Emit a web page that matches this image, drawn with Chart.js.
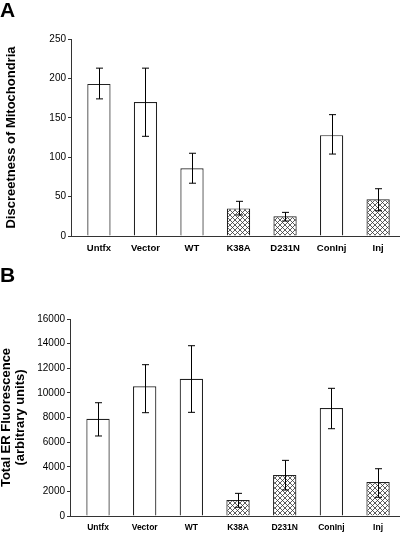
<!DOCTYPE html>
<html>
<head>
<meta charset="utf-8">
<script src="https://cdn.jsdelivr.net/npm/chart.js@4.4.1/dist/chart.umd.min.js"></script>
<style>
  html, body { margin: 0; padding: 0; background: #fff; overflow: hidden; }
  #wrap { position: relative; width: 400px; height: 536px; }
  .panel { position: absolute; left: 0; width: 400px; height: 268px; }
  .letter { position: absolute; left: 0; font: bold 21px 'Liberation Sans', Arial, sans-serif; color: #000; z-index: 2; }
</style>
</head>
<body>
<div id="wrap">
  <div class="letter" style="top:-2px">A</div>
  <div class="panel" style="top:0"><canvas id="chartA" width="400" height="268"></canvas></div>
  <div class="letter" style="top:263px">B</div>
  <div class="panel" style="top:268px"><canvas id="chartB" width="400" height="268"></canvas></div>
</div>
<script>
// categories shared by both panels
const categories = ['Untfx', 'Vector', 'WT', 'K38A', 'D231N', 'ConInj', 'Inj'];
const hatched = [false, false, false, true, true, false, true];

// panel A: discreetness of mitochondria
const mitoValues = [193, 170, 86, 35, 25, 128, 46.5];
const mitoErrHigh = [213, 213, 105, 44, 30, 154, 60];
const mitoErrLow = [174, 126.5, 67, 26.7, 19, 104, 32];
const mitoTicks = [0, 50, 100, 150, 200, 250];

// panel B: total ER fluorescence
const erValues = [7900, 10540, 11150, 1300, 3330, 8770, 2760];
const erErrHigh = [9200, 12290, 13830, 1840, 4520, 10370, 3840];
const erErrLow = [6500, 8390, 8420, 710, 2110, 7090, 1520];
const erTicks = [0, 2000, 4000, 6000, 8000, 10000, 12000, 14000, 16000];

const FONT = "'Liberation Sans', Arial, sans-serif";

// cross-hatch fill
const makeHatch = () => {
    const c = document.createElement('canvas');
    c.width = 5; c.height = 5;
    const g = c.getContext('2d');
    g.fillStyle = '#fff';
    g.fillRect(0, 0, 5, 5);
    g.strokeStyle = '#333';
    g.lineWidth = 0.8;
    g.beginPath();
    g.moveTo(0, 0); g.lineTo(5, 5);
    g.moveTo(5, 0); g.lineTo(0, 5);
    g.stroke();
    return g.createPattern(c, 'repeat');
};
const hatch = makeHatch();

// error bars drawn on top of the bars
const errorBars = {
    id: 'errorBars',
    afterDatasetsDraw(chart, args, opts) {
        const { ctx, scales: { x, y } } = chart;
        ctx.save();
        ctx.strokeStyle = '#000';
        ctx.lineWidth = 1;
        opts.high.forEach((hi, i) => {
            const px = Math.round(x.getPixelForValue(i)) + 0.5;
            const top = y.getPixelForValue(hi);
            const bot = y.getPixelForValue(opts.low[i]);
            ctx.beginPath();
            ctx.moveTo(px, top); ctx.lineTo(px, bot);
            ctx.moveTo(px - 3.5, top); ctx.lineTo(px + 3.5, top);
            ctx.moveTo(px - 3.5, bot); ctx.lineTo(px + 3.5, bot);
            ctx.stroke();
        });
        ctx.restore();
    }
};

const makeChart = (id, cfg) => {
    const data = categories.map((c, i) => ({ x: i, y: cfg.values[i] }));
    return new Chart(document.getElementById(id), {
        type: 'bar',
        data: {
            datasets: [{
                data: data,
                backgroundColor: hatched.map(h => h ? hatch : '#fff'),
                borderColor: '#222',
                borderWidth: 1.2,
                categoryPercentage: 1,
                barPercentage: 0.5
            }]
        },
        options: {
            responsive: false,
            animation: false,
            events: [],
            layout: { padding: { top: cfg.top, left: 0, right: 0, bottom: 0 } },
            plugins: {
                legend: { display: false },
                tooltip: { enabled: false },
                errorBars: { high: cfg.high, low: cfg.low }
            },
            scales: {
                x: {
                    type: 'linear',
                    offset: false,
                    min: -0.6,
                    max: 6.47,
                    afterFit: s => { s.height = cfg.xHeight; },
                    afterBuildTicks: s => {
                        s.ticks = categories.map((c, i) => ({ value: i }));
                    },
                    grid: { display: false, drawTicks: false },
                    border: { display: true, color: '#333', width: 1 },
                    ticks: {
                        autoSkip: false,
                        maxRotation: 0,
                        padding: 7,
                        color: '#000',
                        font: { family: FONT, size: cfg.xFont, weight: 'bold' },
                        callback: v => categories[v]
                    }
                },
                y: {
                    min: 0,
                    max: cfg.ticks[cfg.ticks.length - 1],
                    afterFit: s => { s.width = cfg.yWidth; },
                    afterBuildTicks: s => {
                        s.ticks = cfg.ticks.map(v => ({ value: v }));
                    },
                    grid: { display: true, drawOnChartArea: false, drawTicks: true, tickLength: 3, color: '#333' },
                    border: { display: true, color: '#333', width: 1 },
                    ticks: {
                        padding: 2,
                        color: '#000',
                        font: { family: FONT, size: 10 },
                        callback: v => String(v)
                    },
                    title: {
                        display: true,
                        text: cfg.title,
                        color: '#000',
                        padding: { top: cfg.titlePad, bottom: 0 },
                        font: { family: FONT, size: 13, weight: 'bold', lineHeight: cfg.titleLH }
                    }
                }
            }
        },
        plugins: [errorBars]
    });
};

makeChart('chartA', {
    values: mitoValues, high: mitoErrHigh, low: mitoErrLow, ticks: mitoTicks,
    top: 39, xHeight: 32, yWidth: 71, xFont: 9.5,
    title: 'Discreetness of Mitochondria', titlePad: 4, titleLH: 1.2
});

makeChart('chartB', {
    values: erValues, high: erErrHigh, low: erErrLow, ticks: erTicks,
    top: 51, xHeight: 20, yWidth: 70, xFont: 8.5,
    title: ['Total ER Fluorescence', '(arbitrary units)'], titlePad: -1, titleLH: 1.12
});
</script>
</body>
</html>
